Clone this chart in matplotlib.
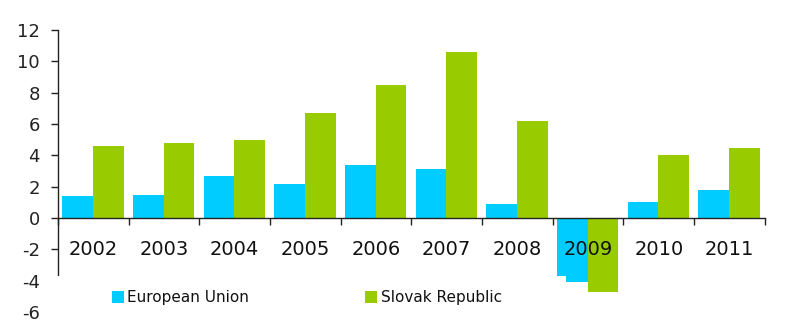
import numpy as np
import matplotlib
matplotlib.use("Agg")
import matplotlib.pyplot as plt
from matplotlib.patches import Rectangle, Patch

# GDP growth, %
years = ['2002', '2003', '2004', '2005', '2006', '2007', '2008', '2009', '2010', '2011']
eu = [1.4, 1.5, 2.7, 2.2, 3.4, 3.1, 0.9, -4.1, 1.0, 1.8]
sk = [4.6, 4.8, 5.0, 6.7, 8.5, 10.6, 6.2, -4.7, 4.0, 4.5]

blue = '#00ccff'
green = '#99cc00'

plt.rcParams['font.family'] = 'DejaVu Sans'
plt.rcParams['axes.unicode_minus'] = False

fig = plt.figure(figsize=(8.0, 3.36), dpi=100, facecolor='white')
ax = fig.add_axes([0.0725, 0.0714, 0.8835, 0.8393])

x = np.arange(len(years))
w = 0.435
ax.bar(x + 0.06, eu, width=w, align='edge', color=blue, linewidth=0)
ax.bar(x + 0.06 + w, sk, width=w, align='edge', color=green, linewidth=0)

ax.set_xlim(0, len(years))
ax.set_ylim(-6, 12)
ax.set_yticks(np.arange(-6, 13, 2))
ax.tick_params(axis='y', direction='out', length=5, width=1, colors='#222222',
               labelsize=13, pad=8)

# x axis sits on zero, ticks at category boundaries, labels centred below
ax.spines['bottom'].set_position(('data', 0))
ax.spines['top'].set_visible(False)
ax.spines['right'].set_visible(False)
for s in ('left', 'bottom'):
    ax.spines[s].set_color('#222222')
    ax.spines[s].set_linewidth(1)
ax.set_xticks(np.arange(0, len(years) + 1))
ax.set_xticklabels([])
ax.tick_params(axis='x', which='major', direction='out', length=5, width=1, colors='#222222')
ax.set_xticks(x + 0.5, minor=True)
ax.set_xticklabels(years, minor=True)
ax.tick_params(axis='x', which='minor', length=0, pad=16, labelsize=14, labelcolor='#111111')

# white legend area hiding the bottom of the plot
fig.patches.append(Rectangle((48 / 800, 0), (566 - 48) / 800, 1 - 275.5 / 336,
                             transform=fig.transFigure, facecolor='white',
                             edgecolor='none', zorder=1))

handles = [Patch(facecolor=blue, edgecolor='none', label='European Union'),
           Patch(facecolor=green, edgecolor='none', label='Slovak Republic')]
leg = fig.legend(handles=handles, ncol=2, loc='upper left',
                 bbox_to_anchor=(112 / 800, 1 - 290 / 336), frameon=False,
                 fontsize=11, handlelength=0.8, handleheight=0.8,
                 handletextpad=0.2, columnspacing=7.6, borderpad=0,
                 borderaxespad=0)
for t in leg.get_texts():
    t.set_color('#111111')
leg.set_zorder(5)

fig.savefig('out.png', dpi=100, facecolor='white')
